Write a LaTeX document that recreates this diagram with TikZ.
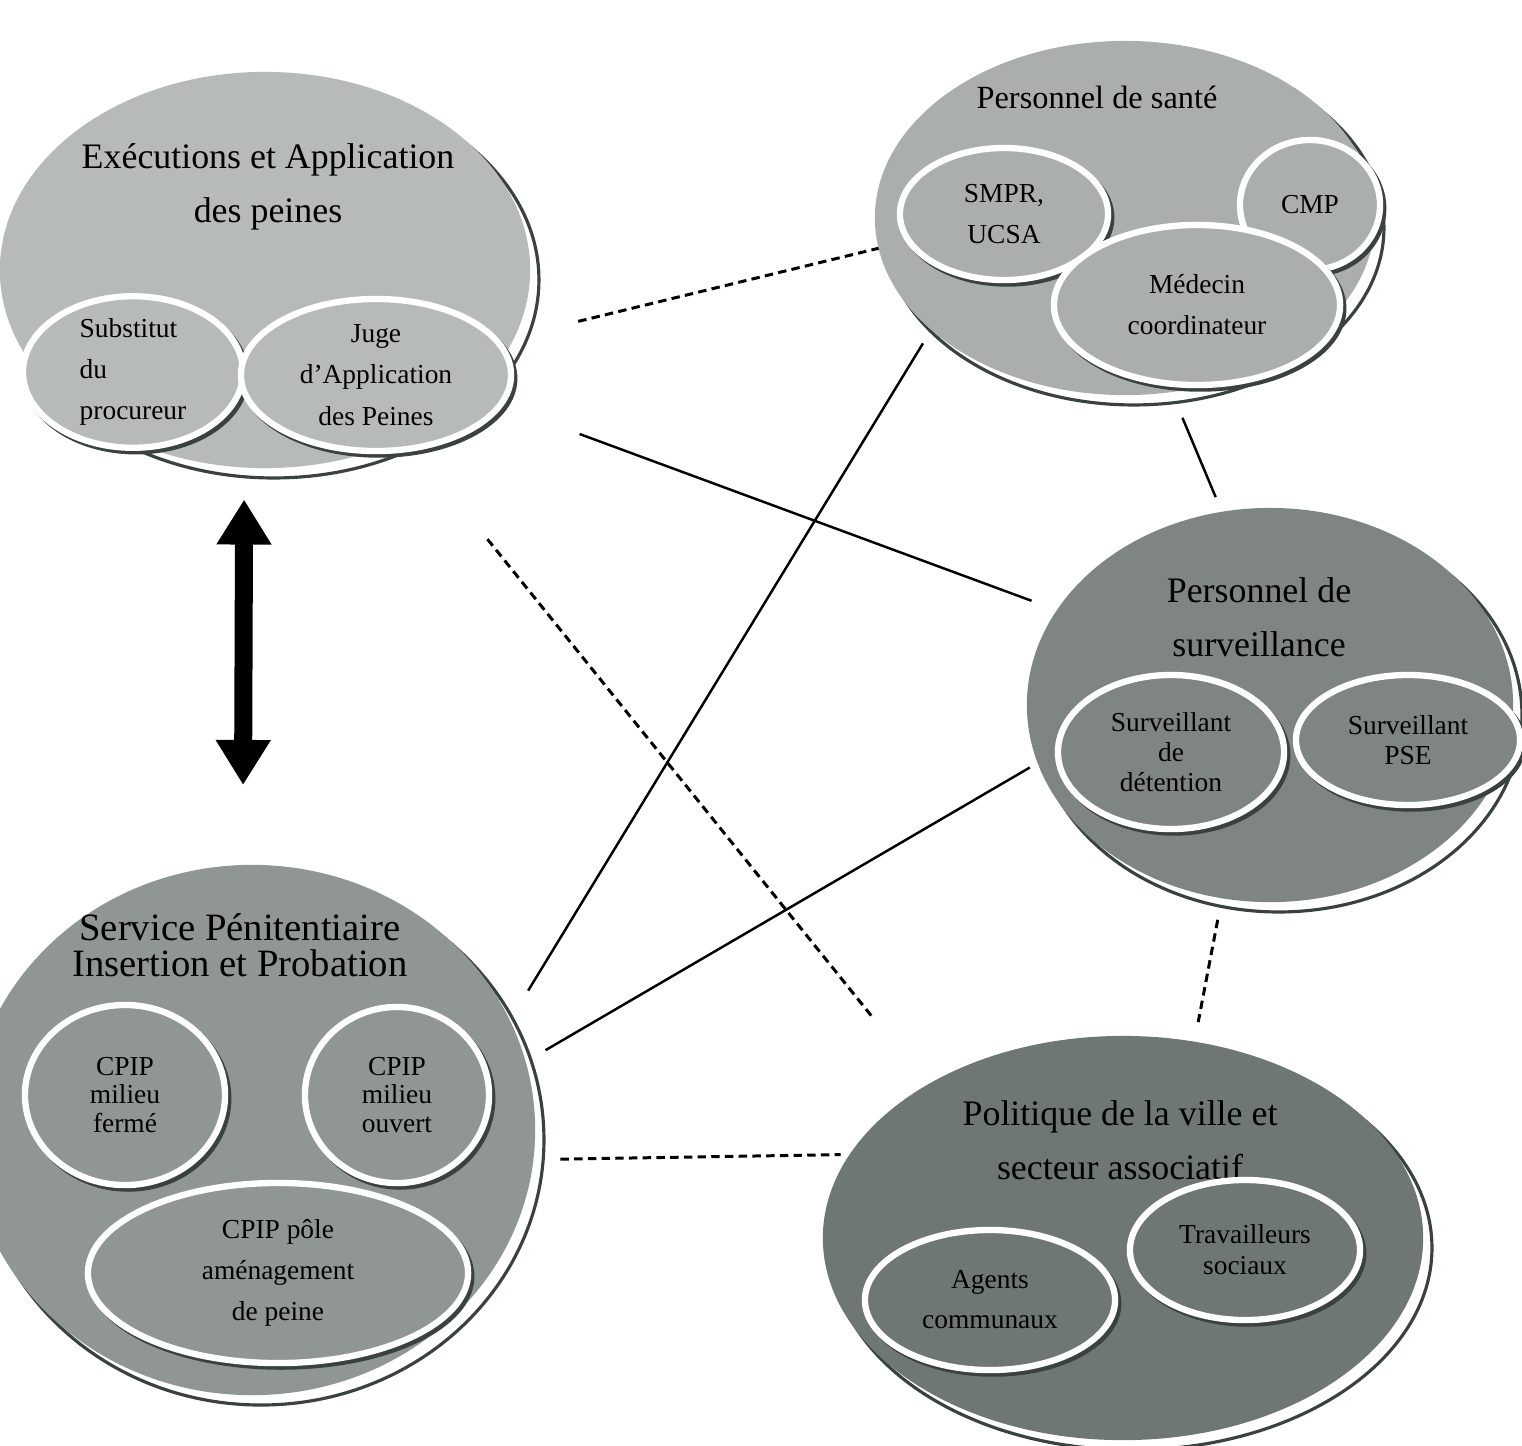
\documentclass[tikz,border=0pt]{standalone}
\usepackage{fontspec}
\setmainfont{Liberation Serif}
\usetikzlibrary{shapes.geometric,arrows.meta}
\definecolor{grisA}{HTML}{B6BAB8}
\definecolor{grisB}{HTML}{AAAFAD}
\definecolor{grisC}{HTML}{7E8583}
\definecolor{grisD}{HTML}{8F9694}
\definecolor{grisE}{HTML}{6F7775}
\definecolor{ombre}{HTML}{3A4240}
\begin{document}
\begin{tikzpicture}[x=0.01cm,y=-0.01cm,
  groupe/.style={ellipse,inner sep=0pt,outer sep=0pt,fill=#1,
    preaction={fill=white,draw=ombre,line width=0.9pt,transform canvas={shift={(2.5pt,-2.8pt)}}}},
  membre/.style={ellipse,inner sep=0pt,outer sep=0pt,fill=#1,draw=white,line width=1.8pt,
    align=center,font=\fontsize{7.8}{11.7}\selectfont,
    preaction={draw=ombre,line width=1.8pt,transform canvas={shift={(0.9pt,-1pt)}}}},
  titre/.style={align=center,font=\fontsize{10.2}{15.5}\selectfont},
  lien/.style={line width=0.7pt},
  pointille/.style={line width=0.85pt,dash pattern=on 2.4pt off 1.5pt}]
\useasboundingbox (0,0) rectangle (1522,1445);

% les cinq groupes
\node[groupe=grisA,minimum width=5.3cm,minimum height=3.96cm] (ex) at (265,270) {};
\node[groupe=grisB,minimum width=5cm,minimum height=3.54cm] (sante) at (1125,218) {};
\node[groupe=grisC,minimum width=4.86cm,minimum height=3.94cm] (surv) at (1270,705) {};
\node[groupe=grisD,minimum width=5.66cm,minimum height=5.3cm] (spip) at (252,1130) {};
\node[groupe=grisE,minimum width=6cm,minimum height=4.04cm] (ville) at (1123,1238) {};

\node[titre] (tex) at (268,187) {Exécutions et Application\\des peines};
\node[titre,font=\fontsize{9.2}{12}\selectfont] (tsante) at (1097,97) {Personnel de santé};
\node[titre] (tsurv) at (1259,617) {Personnel de\\surveillance};
\node[titre,font=\fontsize{11}{10.3}\selectfont] (tspip) at (240,945) {Service Pénitentiaire\\Insertion et Probation};
\node[titre] (tville) at (1120,1140) {Politique de la ville et\\secteur associatif};

% membres
\node[membre=grisA,minimum width=2.2cm,minimum height=1.48cm,align=left] (subst) at (133,372) {Substitut\\du\\procureur};
\node[membre=grisA,minimum width=2.7cm,minimum height=1.52cm] (jap) at (376,375) {Juge\\d’Application\\des Peines};

\node[membre=grisB,minimum width=2.08cm,minimum height=1.32cm] (smpr) at (1004,214) {SMPR,\\UCSA};
\node[membre=grisB,minimum width=1.4cm,minimum height=1.3cm] (cmp) at (1310,205) {CMP};
\node[membre=grisB,minimum width=2.86cm,minimum height=1.6cm] (medecin) at (1197,305) {Médecin\\coordinateur};

\node[membre=grisC,minimum width=2.26cm,minimum height=1.54cm,font=\fontsize{7.8}{8.6}\selectfont] (detention) at (1171,752) {Surveillant\\de\\détention};
\node[membre=grisC,minimum width=2.24cm,minimum height=1.3cm,font=\fontsize{7.8}{8.6}\selectfont] (pse) at (1408,740) {Surveillant\\PSE};

\node[membre=grisD,minimum width=2cm,minimum height=1.8cm,font=\fontsize{7.8}{8.2}\selectfont] (ferme) at (125,1095) {CPIP\\milieu\\fermé};
\node[membre=grisD,minimum width=1.84cm,minimum height=1.76cm,font=\fontsize{7.8}{8.2}\selectfont] (ouvert) at (397,1095) {CPIP\\milieu\\ouvert};
\node[membre=grisD,minimum width=3.8cm,minimum height=1.8cm] (pole) at (278,1273) {CPIP pôle\\aménagement\\de peine};

\node[membre=grisE,minimum width=2.5cm,minimum height=1.4cm,font=\fontsize{7.8}{11.4}\selectfont] (agents) at (990,1300) {Agents\\communaux};
\node[membre=grisE,minimum width=2.3cm,minimum height=1.4cm,font=\fontsize{7.8}{8.8}\selectfont] (travailleurs) at (1245,1250) {Travailleurs\\sociaux};

% relations
\draw[line width=0.18cm,{Triangle[length=0.45cm,width=0.52cm]}-{Triangle[length=0.45cm,width=0.52cm]},
  shorten <=0.32cm,shorten >=0.8cm] (ex.-96.65) -- (spip.92.16);

\draw[pointille,shorten <=0.655cm] (ex.-15.08) -- (sante.187.4);
\draw[lien,shorten <=1.15cm,shorten >=0.27cm] (ex.-31.33) -- (surv.156.7);
\draw[pointille,shorten <=1.3cm,shorten >=0.89cm] (ex.-50.54) -- (ville.142.9);
\draw[lien,shorten <=0.28cm,shorten >=0.16cm] (sante.-75.93) -- (surv.104.06);
\draw[lien,shorten <=0.157cm,shorten >=0.35cm] (sante.210.64) -- (spip.23.16);
\draw[lien,shorten <=0.09cm,shorten >=0.23cm] (surv.194.1) -- (spip.14.06);
\draw[pointille,shorten <=0.22cm,shorten >=0.2cm] (surv.256.04) -- (ville.70.38);
\draw[pointille,shorten <=0.27cm,shorten >=0.09cm] (spip.-6.58) -- (ville.163.8);
\end{tikzpicture}
\end{document}
